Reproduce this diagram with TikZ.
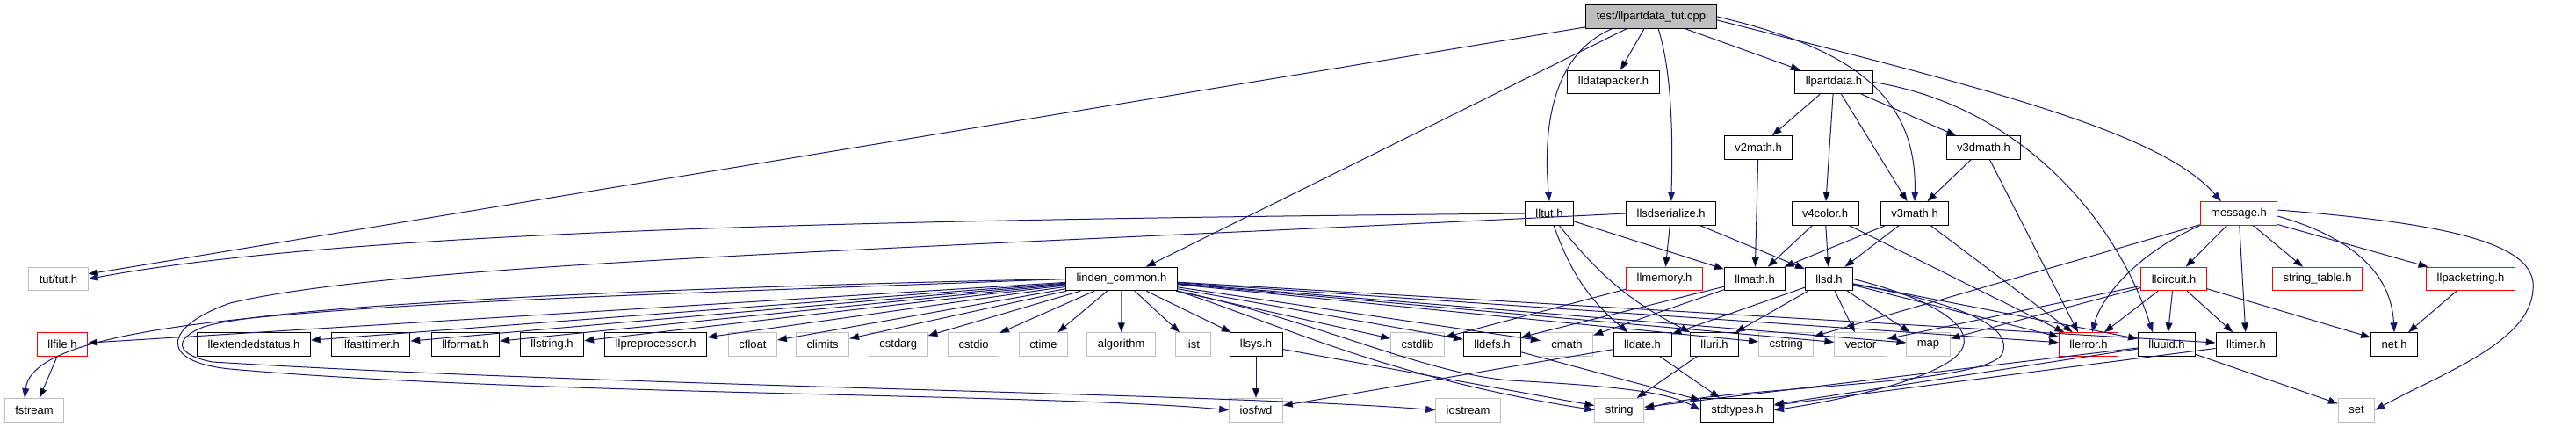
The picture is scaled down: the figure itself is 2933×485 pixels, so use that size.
\documentclass[tikz,border=0pt]{standalone}
\usepackage{fontspec}
\setmainfont{Liberation Sans}
\usetikzlibrary{arrows.meta}
\definecolor{edgeblue}{HTML}{191970}
\definecolor{sysgrey}{HTML}{BFBFBF}
\tikzset{
	hdr/.style={draw=black, line width=0.9pt, fill=white, font=\fontsize{13}{15}\selectfont,
		inner xsep=12pt, inner ysep=0pt, minimum height=26.5pt},
	sys/.style={hdr, draw=sysgrey},
	trunc/.style={hdr, draw=red},
	root/.style={hdr, fill=sysgrey},
	dep/.style={draw=edgeblue, line width=1pt, -{Triangle[length=11pt,width=8pt]}},
}
\begin{document}
\begin{tikzpicture}[x=1pt,y=-1pt]
		\useasboundingbox (0,0) rectangle (2933,485);
		\node[root] (cpp) at (1880,18.8) {test/llpartdata\_tut.cpp};

		\node[hdr] (lldatapacker) at (1837,93.5) {lldatapacker.h};
		\node[hdr] (llpartdata) at (2088,93.5) {llpartdata.h};

		\node[hdr] (v2math) at (2002,168) {v2math.h};
		\node[hdr] (v3dmath) at (2258.5,168) {v3dmath.h};

		\node[hdr] (lltut) at (1764,243) {lltut.h};
		\node[hdr] (llsdser) at (1902.7,243) {llsdserialize.h};
		\node[hdr] (v4color) at (2078,243) {v4color.h};
		\node[hdr] (v3math) at (2180,243) {v3math.h};
		\node[trunc] (message) at (2549,243) {message.h};

		\node[sys] (tut) at (66.5,317.5) {tut/tut.h};
		\node[hdr] (lc) at (1277,317.5) {linden\_common.h};
		\node[trunc] (llmemory) at (1895,317.5) {llmemory.h};
		\node[hdr] (llmath) at (1998,317.5) {llmath.h};
		\node[hdr] (llsd) at (2082.5,317.5) {llsd.h};
		\node[trunc] (llcircuit) at (2475,317.5) {llcircuit.h};
		\node[trunc] (strtable) at (2638.5,317.5) {string\_table.h};
		\node[trunc] (llpacketring) at (2813,317.5) {llpacketring.h};

		\node[trunc] (llfile) at (71,392) {llfile.h};
		\node[hdr] (llextstatus) at (289,392) {llextendedstatus.h};
		\node[hdr] (llfasttimer) at (422,392) {llfasttimer.h};
		\node[hdr] (llformat) at (530,392) {llformat.h};
		\node[hdr] (llstring) at (628.5,392) {llstring.h};
		\node[hdr] (llpreproc) at (746.7,392) {llpreprocessor.h};
		\node[sys] (cfloat) at (857,392) {cfloat};
		\node[sys] (climits) at (936.6,392) {climits};
		\node[sys] (cstdarg) at (1022.7,392) {cstdarg};
		\node[sys] (cstdio) at (1108.7,392) {cstdio};
		\node[sys] (ctime) at (1188,392) {ctime};
		\node[sys] (algorithm) at (1276.6,392) {algorithm};
		\node[sys] (list) at (1358,392) {list};
		\node[hdr] (llsys) at (1430,392) {llsys.h};
		\node[sys] (cstdlib) at (1614,392) {cstdlib};
		\node[hdr] (lldefs) at (1699,392) {lldefs.h};
		\node[sys] (cmath) at (1784,392) {cmath};
		\node[hdr] (lldate) at (1870,392) {lldate.h};
		\node[hdr] (lluri) at (1952,392) {lluri.h};
		\node[sys] (cstring) at (2033.7,392) {cstring};
		\node[sys] (vector) at (2118.5,392) {vector};
		\node[sys] (map) at (2195.5,392) {map};
		\node[trunc] (llerror) at (2378,392) {llerror.h};
		\node[hdr] (lluuid) at (2467,392) {lluuid.h};
		\node[hdr] (lltimer) at (2557.5,392) {lltimer.h};
		\node[hdr] (net) at (2726,392) {net.h};

		\node[sys] (fstream) at (39,466.7) {fstream};
		\node[sys] (iosfwd) at (1430,466.7) {iosfwd};
		\node[sys] (iostream) at (1671.6,466.7) {iostream};
		\node[sys] (string) at (1843.7,466.7) {string};
		\node[hdr] (stdtypes) at (1978,466.7) {stdtypes.h};
		\node[sys] (set) at (2683,466.7) {set};

		\draw[dep] (cpp) edge (tut);
		\draw[dep] (cpp) edge (lc);
		\draw[dep] ([xshift=-44pt]cpp.south) .. controls (1770,60) and (1756,140) .. (lltut.north);
		\draw[dep] (cpp) edge (lldatapacker);
		\draw[dep] ([xshift=8pt]cpp.south) .. controls (1903,80) and (1905,150) .. (llsdser.north);
		\draw[dep] (cpp) edge (llpartdata);
		\draw[dep] (cpp.east) .. controls (2110,55) and (2183,110) .. (v3math.north);
		\draw[dep] ([yshift=-4pt]cpp.east) .. controls (2260,100) and (2460,150) .. ([xshift=-20pt]message.north);

		\foreach \t in {v2math,v3dmath,v4color,v3math}
			\draw[dep] (llpartdata) edge (\t);
		\draw[dep] (llpartdata.east) .. controls (2300,120) and (2410,250) .. ([xshift=-16pt]lluuid.north);
		\draw[dep] (v2math) edge (llmath);
		\draw[dep] (v3dmath) edge (v3math);
		\draw[dep] (v3dmath) edge ([xshift=-12pt]llerror.north);
		\foreach \t in {llmath,llsd,llerror}{
			\draw[dep] (v4color) edge (\t);
			\draw[dep] (v3math) edge (\t);
		};

		\draw[dep] (lltut.west) .. controls (1000,250) and (400,262) .. (tut.east);
		\draw[dep] (lltut) edge (llmath);
		\draw[dep] (lltut) edge[bend right=15] (lldate);
		\draw[dep] (lltut) edge[bend right=12] (lluri);

		\draw[dep] (llsdser) edge (llmemory);
		\draw[dep] (llsdser) edge (llsd);
		\draw[dep] (llsdser.west) .. controls (1000,285) and (450,300) .. (262,345)
			.. controls (185,372) and (180,412) .. (262,420)
			.. controls (600,450) and (1200,448) .. (iosfwd.west);

		\draw[dep] (lc.west) .. controls (700,328) and (300,350) .. (232,372)
			.. controls (196,386) and (200,404) .. (242,412)
			.. controls (700,440) and (1400,448) .. (iostream.west);
		\draw[dep] (lc.west) .. controls (500,345) and (40,350) .. ([xshift=-11pt]fstream.north);
		\foreach \t in {llfile,llextstatus,llfasttimer,llformat,llstring,llpreproc,cfloat,climits,cstdarg,cstdio,ctime,algorithm,list,llsys,cstdlib,lldefs,cmath,cstring,vector,map,llerror,lltimer}
			\draw[dep] (lc) edge (\t);
		\draw[dep] (lc.south east) .. controls (1460,370) and (1580,430) .. (string.west);
		\draw[dep] (lc.south east) .. controls (1500,365) and (1620,425) .. (1720,433)
			.. controls (1850,440) and (1900,447) .. (stdtypes.west);

		\draw[dep] (llmemory) edge (cstdlib);
		\draw[dep] (llmath) edge (lldefs);
		\draw[dep] (llmath) edge (cmath);
		\foreach \t in {lldate,lluri,vector,map,llerror,lluuid}
			\draw[dep] (llsd) edge (\t);
		\draw[dep] (llsd.east) .. controls (2200,340) and (2245,370) .. (2235,395)
			.. controls (2222,428) and (2100,455) .. (stdtypes.east);
		\draw[dep] ([yshift=-6pt]llsd.east) .. controls (2230,345) and (2292,370) .. (2280,402)
			.. controls (2265,440) and (1950,440) .. (string.east);

		\draw[dep] (message) edge (llcircuit);
		\draw[dep] (message) edge (strtable);
		\draw[dep] (message) edge (llpacketring);
		\draw[dep] (message) edge (lltimer);
		\draw[dep] (message) edge (cstring);
		\draw[dep] (message.south west) .. controls (2430,290) and (2392,340) .. ([xshift=4pt]llerror.north);
		\draw[dep] ([yshift=-3pt]message.east) .. controls (2660,265) and (2722,300) .. (net.north);
		\draw[dep] ([yshift=4pt]message.east) .. controls (2800,255) and (2890,280) .. (2884,330)
			.. controls (2880,390) and (2780,425) .. (set.east);

		\foreach \t in {llerror,lluuid,lltimer,net,vector,map}
			\draw[dep] (llcircuit) edge (\t);
		\draw[dep] (llpacketring) edge (net);

		\draw[dep] (llfile) edge (fstream);
		\draw[dep] (llsys) edge (iosfwd);
		\draw[dep] (llsys) edge (string);
		\draw[dep] (lldefs) edge (stdtypes);
		\draw[dep] (lldate) edge (iosfwd);
		\draw[dep] (lldate) edge (stdtypes);
		\draw[dep] (lluri) edge (string);
		\draw[dep] (lluuid) edge (string);
		\draw[dep] (lluuid) edge (stdtypes);
		\draw[dep] (lluuid) edge (set);
		\draw[dep] (lltimer) edge (stdtypes);
	\end{tikzpicture}
\end{document}
